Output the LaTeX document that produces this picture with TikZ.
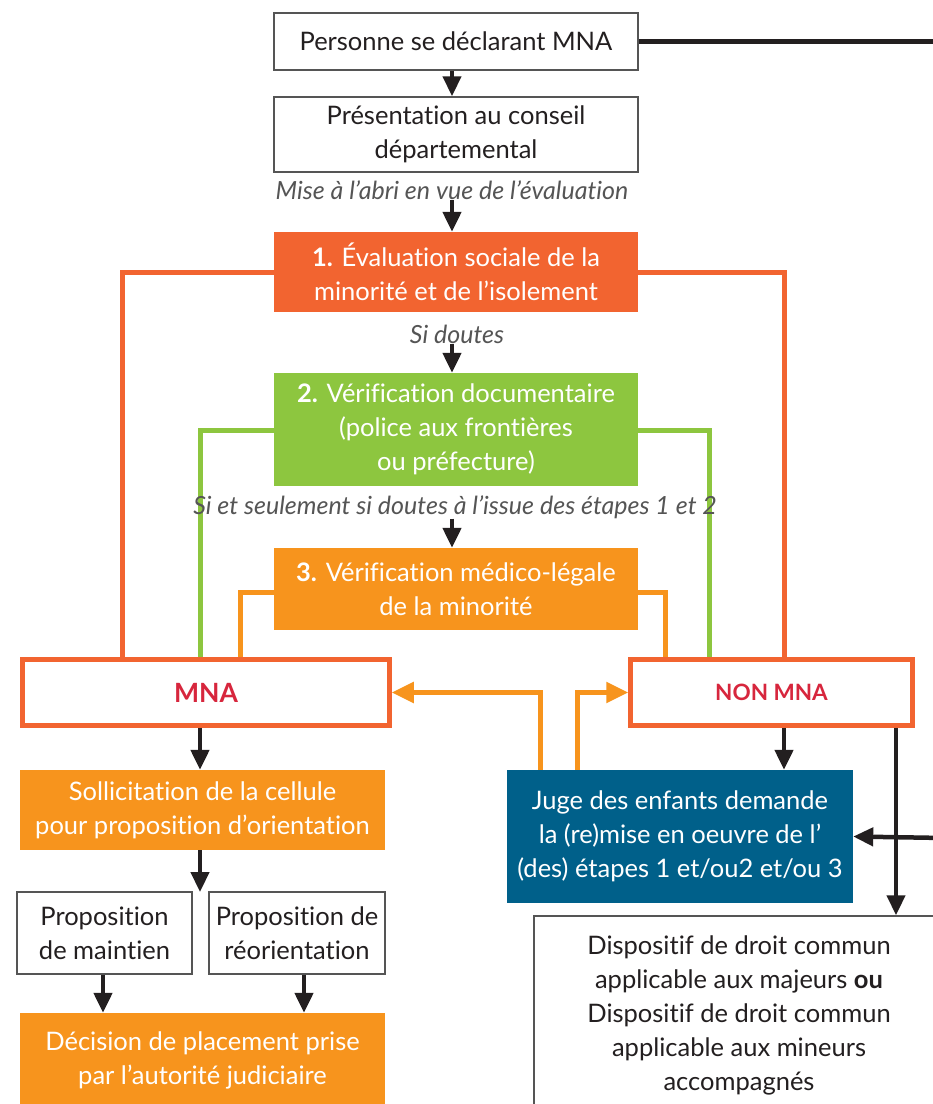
\documentclass[tikz,border=0pt]{standalone}
\usepackage{fontspec}
\setmainfont{Lato}[Ligatures={NoCommon}]
\usetikzlibrary{arrows.meta,calc}
\definecolor{cred}{HTML}{F26430}
\definecolor{corange}{HTML}{F7941D}
\definecolor{cgreen}{HTML}{8DC63F}
\definecolor{cblue}{HTML}{00608A}
\definecolor{ctext}{HTML}{231F20}
\definecolor{cgray}{HTML}{555555}
\definecolor{cmna}{HTML}{D7263D}
\begin{document}
\begin{tikzpicture}[x=1pt,y=-1pt,
  every node/.style={inner sep=0pt,align=center,font=\fontsize{25.5}{34}\selectfont},
  wbox/.style={draw=cgray,line width=1.5pt,fill=white,text=ctext},
  fbox/.style={text=white},
  resbox/.style={draw=cred,line width=4.5pt,fill=white,text=cmna},
  lab/.style={text=cgray,font=\fontsize{25}{30}\selectfont\itshape},
  blk/.style={draw=ctext,line width=4.5pt,-{Triangle[width=18pt,length=20pt]}},
  blkline/.style={draw=ctext,line width=4.5pt},
  conn/.style={line width=5pt},
  oarr/.style={draw=corange,line width=5pt,-{Triangle[width=20pt,length=22pt]}}
]
\useasboundingbox (0,0) rectangle (933,1104);
\clip (0,0) rectangle (933,1104);
\fill[white] (0,0) rectangle (933,1104);

\coordinate (ax) at (452,0);
\coordinate (x122) at (122,0);
\coordinate (x784) at (784,0);
\coordinate (x200) at (200,0);
\coordinate (x709) at (709,0);
\coordinate (x240) at (240,0);
\coordinate (x665) at (665,0);
\coordinate (x540) at (540,0);
\coordinate (x577) at (577,0);
\coordinate (x103) at (103,0);
\coordinate (x304) at (304,0);
\coordinate (x896) at (896,0);
\coordinate (outP) at (945,41.5);
\coordinate (outJ) at (945,838);
\coordinate (propTop) at (200,892);

% colored connectors (behind boxes)
\draw[cred,conn] (456,272) -| (x122 |- 0,660);
\draw[cred,conn] (456,272) -| (x784 |- 0,660);
\draw[cgreen,conn] (456,430) -| (x200 |- 0,660);
\draw[cgreen,conn] (456,430) -| (x709 |- 0,660);
\draw[corange,conn] (456,592) -| (x240 |- 0,660);
\draw[corange,conn] (456,592) -| (x665 |- 0,660);

% boxes
\node[wbox,minimum width=364pt,minimum height=57pt] (P) at (456,41.5) {Personne se déclarant MNA};
\node[wbox,minimum width=364pt,minimum height=75pt] (Pr) at (456,134.5) {Présentation au conseil\\départemental};
\node[lab] (L1) at (452,190) {Mise à l’abri en vue de l’évaluation};
\node[fbox,fill=cred,minimum width=364pt,minimum height=80pt] (B1) at (456,272) {\textbf{1.} Évaluation sociale de la\\minorité et de l’isolement};
\node[lab] (L2) at (457,334) {Si doutes};
\node[fbox,fill=cgreen,minimum width=364pt,minimum height=113pt] (B2) at (456,429.5) {\textbf{2.} Vérification documentaire\\(police aux frontières\\ou préfecture)};
\node[lab] (L3) at (455,507) {Si et seulement si doutes à l’issue des étapes 1 et 2};
\node[fbox,fill=corange,minimum width=364pt,minimum height=82pt] (B3) at (456,589) {\textbf{3.} Vérification médico-légale\\de la minorité};
\node[resbox,minimum width=367pt,minimum height=66pt,font=\fontsize{26.5}{30}\selectfont\bfseries] (MNA) at (206,692.5) {MNA};
\node[resbox,minimum width=282pt,minimum height=66pt,font=\fontsize{22.5}{30}\selectfont\bfseries] (NON) at (771.5,692.5) {NON MNA};
\node[fbox,fill=corange,minimum width=365pt,minimum height=80pt] (S) at (202.5,810) {Sollicitation de la cellule\\pour proposition d’orientation};
\node[wbox,minimum width=175pt,minimum height=82pt] (PM) at (104.5,933) {Proposition\\de maintien};
\node[wbox,minimum width=176pt,minimum height=82pt] (PR) at (297,933) {Proposition de\\réorientation};
\node[fbox,fill=corange,minimum width=365pt,minimum height=94pt] (D) at (202.5,1060) {Décision de placement prise\\par l’autorité judiciaire};
\node[fbox,fill=cblue,minimum width=346pt,minimum height=133pt] (J) at (680,836.5) {Juge des enfants demande\\la (re)mise en oeuvre de l’\\(des) étapes 1 et/ou2 et/ou 3};
\node[wbox,minimum width=410pt,minimum height=198pt] (DC) at (739,1015) {Dispositif de droit commun\\applicable aux majeurs \textbf{ou}\\Dispositif de droit commun\\applicable aux mineurs\\accompagnés};

% black connectors
\draw[blkline] (P.east) -- (outP);
\draw[blk] (P.south -| ax) -- (Pr.north -| ax);
\draw[blk] (L1.south -| ax) -- (B1.north -| ax);
\draw[blk] (L2.south -| ax) -- (B2.north -| ax);
\draw[blk] (L3.south -| ax) -- (B3.north -| ax);
\draw[blk] (MNA.south -| x200) -- (S.north -| x200);
\draw[blk] (S.south -| x200) -- (propTop);
\draw[blk] (PM.south -| x103) -- (D.north -| x103);
\draw[blk] (PR.south -| x304) -- (D.north -| x304);
\draw[blk] (NON.south -| x784) -- (J.north -| x784);
\draw[blk] (NON.south -| x896) -- (DC.north -| x896);
\draw[blk] (outJ) -- (J.east);

% orange return arrows
\draw[oarr] (J.north -| x540) |- (MNA.east);
\draw[oarr] (J.north -| x577) |- (NON.west);
\end{tikzpicture}
\end{document}
